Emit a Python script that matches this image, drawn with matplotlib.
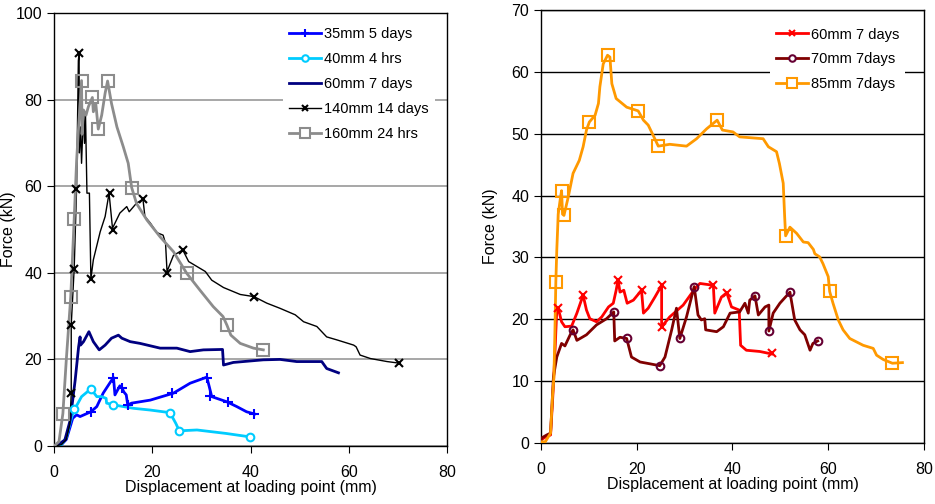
import matplotlib
matplotlib.use("Agg")
import matplotlib.pyplot as plt
from matplotlib.lines import Line2D

plt.rcParams['font.family'] = ['Liberation Sans', 'DejaVu Sans']

# ---- left chart data ----
s35_x = [0, 1.5, 2.5, 3.3, 3.8, 4.6, 5.3, 6.7, 7.5, 8.7, 10.0, 11.9, 12.1, 12.4, 13.4, 13.8, 14.2, 14.7, 15.0,
         15.8, 19.6, 24.3, 27.7, 31.1, 31.6, 32.1, 35.2, 37.2, 39.2, 40.8]
s35_y = [0, 0.3, 1.5, 4.5, 6.4, 7.2, 6.8, 7.5, 7.9, 9.1, 12.2, 15.5, 15.8, 11.8, 13.9, 13.5, 12.5, 11.8, 9.5,
         9.9, 10.6, 12.2, 14.5, 15.9, 13.7, 11.4, 10.2, 9.1, 7.9, 7.4]
s35_mx = [7.5, 12.1, 13.8, 15.1, 24.1, 31.1, 31.8, 35.4, 40.8]
s35_my = [7.9, 15.8, 13.5, 9.5, 12.2, 15.8, 11.5, 10.2, 7.4]

s40_x = [0, 1.5, 2.5, 3.3, 4.1, 4.3, 5.6, 7.5, 8.7, 9.7, 10.6, 10.7, 12.1, 16.2, 19.6, 23.6, 24.8, 25.5,
         29.1, 35, 39.9]
s40_y = [0, 0.3, 2, 5.5, 8.5, 8.7, 11.4, 13.2, 11.4, 11.4, 11.0, 9.9, 9.5, 8.7, 8.3, 7.7, 5.2, 3.5,
         3.7, 2.9, 2.1]
s40_mx = [4.1, 7.5, 12.1, 23.6, 25.5, 39.9]
s40_my = [8.5, 13.1, 9.5, 7.7, 3.5, 2.1]

s60_x = [0, 1.2, 2.2, 3.3, 4.3, 5.0, 5.3, 5.4, 6.0, 7.1, 8.0, 9.2, 10.4, 11.7, 13.1, 13.8, 15.5, 17.5,
         21.6, 25, 27.7, 30.4, 34.3, 34.5, 36.5, 42.6, 46, 49.4, 54.5, 55.5, 57.9]
s60_y = [0, 0.6, 1.4, 6, 15.2, 22.9, 25.2, 23.3, 24.1, 26.4, 24.1, 22.2, 23.3, 24.9, 25.6, 24.9, 24.1, 23.7,
         22.6, 22.6, 21.8, 22.2, 22.3, 18.7, 19.3, 19.9, 20, 19.5, 19.5, 17.9, 16.9]

s140_x = [0, 1.5, 2.5, 3.2, 3.5, 3.5, 4.1, 4.6, 4.95, 5.1, 5.15, 5.4, 5.6, 6.0, 6.2, 6.4, 6.7, 7.2, 7.5,
          8.0, 9.4, 10.4, 11.2, 11.9, 13.4, 14.8, 15.3, 16.8, 18.1, 18.5, 19.6, 20.9, 22.2, 22.7, 23.0,
          24.3, 26.2, 27.4, 30.8, 32.1, 34.5, 37.9, 40.7, 43.3, 46, 49.1, 50.8, 53.5, 55.5, 57.6, 61,
          61.5, 62.3, 64.4, 67.8, 70.5]
s140_y = [0, 0.3, 1.5, 5, 12, 28, 41, 59.9, 89, 90.8, 67.7, 73.7, 65.3, 77.6, 69.9, 76.8, 58.4, 58.4, 38.6,
          43, 49.5, 53, 58.4, 50.3, 53.8, 55.3, 54.1, 56.1, 57, 53, 51.5, 49.3, 48.7, 46.8, 40.3,
          44, 45.3, 42.6, 40.3, 38.3, 36.6, 35, 34.5, 33, 31.8, 30.3, 28.7, 27.6, 25.2, 24.5, 23.3,
          22.9, 21, 20.2, 19.5, 19.1]
s140_mx = [3.5, 3.5, 4.1, 4.5, 5.1, 7.5, 11.3, 12.0, 18.1, 23.0, 26.2, 40.8, 70.3]
s140_my = [12.2, 28, 40.9, 59.4, 90.8, 38.6, 58.4, 50, 57, 40, 45.3, 34.5, 19.2]

s160_x = [0, 1.0, 1.8, 2.5, 3.4, 4.1, 4.6, 5.0, 5.6, 5.7, 6.0, 6.5, 7.0, 7.8, 8.0, 8.5, 9.0, 9.7, 10.4,
          10.9, 11.7, 12.8, 14.1, 15.1, 15.8, 16.8, 18.9, 21.6, 24.3, 27.0, 29.7, 32.4, 34.4, 35.2, 36.0,
          37.9, 40.6, 42.6]
s160_y = [0, 1, 7.5, 20, 34.5, 52.4, 66, 73.7, 84.4, 72, 77.6, 76.4, 78.4, 80.5, 77.2, 79.1, 73.2, 76.4, 81.5,
          84.3, 79.1, 73.7, 69.1, 65.3, 59.7, 56, 52.2, 48.3, 44.9, 39.9, 36, 32.2, 29.9, 27.9, 25.6,
          23.7, 22.6, 22.2]
s160_mx = [1.8, 3.4, 4.1, 5.6, 7.8, 9.0, 10.9, 15.8, 27.0, 35.2, 42.6]
s160_my = [7.5, 34.5, 52.4, 84.4, 80.5, 73.2, 84.3, 59.7, 39.9, 27.9, 22.2]

# ---- right chart data ----
r60_x = [0, 1, 2, 2.5, 3.0, 3.1, 3.3, 3.6, 4.3, 5.0, 6.4, 7.5, 8.8, 9.5, 10.2, 11.6, 12.7, 14.1, 15.1, 15.7,
         16.1, 16.5, 17.3, 18.0, 19.3, 21.0, 21.4, 22.4, 23.8, 25.2, 25.2, 26.9, 29.7, 32.2, 33.2, 36.0,
         36.3, 37.7, 38.8, 39.8, 41.4, 41.7, 42.9, 45.7, 48.2]
r60_y = [0.5, 1, 1.3, 8, 16, 18, 21.5, 21.8, 19.6, 18.8, 18.9, 21, 23.9, 21.5, 20.1, 19.6, 20.4, 22, 22.6, 24.7,
         26.4, 24.4, 24.7, 22.6, 23.1, 24.7, 21, 21.8, 23.6, 25.5, 18.8, 20.4, 22.3, 25, 25.8, 25.5,
         21, 23.6, 24.3, 22, 21.5, 15.8, 15, 14.8, 14.4]
r60_mx = [3.6, 8.8, 16.1, 21.0, 25.2, 25.2, 36.0, 38.8, 48.2]
r60_my = [21.8, 23.9, 26.4, 24.7, 25.5, 18.8, 25.5, 24.3, 14.5]

r70_x = [0, 0.1, 1.2, 2.0, 2.6, 3.3, 4.3, 5.0, 6.1, 6.7, 7.5, 9.5, 11.6, 13.7, 15.2, 15.4, 16.5, 17.9, 18.9,
         20.7, 22.8, 24.8, 25.9, 27.3, 28.3, 29.0, 30.4, 32.0, 32.8, 33.5, 34.2, 34.4, 36.7, 38.1, 39.5,
         41.5, 42.6, 43.3, 43.6, 44.7, 45.4, 46.8, 47.6, 47.6, 48.5, 49.9, 52.0, 53.0, 54.1, 55.1, 56.2,
         56.8, 57.8]
r70_y = [0.3, 0.8, 1.3, 1.6, 10.7, 13.9, 16.1, 15.7, 17.5, 18.3, 16.6, 17.5, 19.1, 20.1, 21.2, 16.5, 17.1, 16.9, 13.9,
         13.1, 12.8, 12.5, 13.9, 18.3, 21.8, 16.9, 20.4, 25.3, 20.7, 19.9, 20.1, 18.3, 18, 18.8, 21,
         21.2, 22.6, 21, 23.1, 23.8, 20.7, 22, 22.3, 18.1, 21, 22.6, 24.4, 19.9, 18.3, 17.5, 15,
         16.1, 16.5]
r70_mx = [6.7, 15.2, 17.9, 24.8, 29.0, 32.0, 44.7, 47.6, 52.0, 57.8]
r70_my = [18.3, 21.2, 16.9, 12.5, 16.9, 25.3, 23.8, 18.1, 24.4, 16.5]

r85_x = [0, 0.9, 2.0, 2.4, 2.7, 2.9, 3.1, 3.3, 3.6, 4.0, 4.3, 4.5, 4.8, 5.7, 6.7, 8.0, 8.8, 9.5, 10.1, 11.3,
         12.0, 12.3, 13.0, 13.9, 14.4, 14.8, 15.7, 17.9, 20.3, 21.4, 22.4, 23.4, 24.5, 26.9, 30.4, 32.5,
         34.6, 36.8, 37.9, 40.1, 41.5, 46.4, 47.5, 49.2, 49.8, 50.6, 50.9, 51.1, 52.0, 53.4, 54.8, 55.8,
         56.9, 57.2, 58.2, 58.9, 60.0, 60.3, 61.0, 62.1, 63.1, 64.5, 67.3, 69.4, 70.1, 71.5, 73.4, 75.5]
r85_y = [0.2, 0.2, 1.6, 7.5, 10.7, 17.7, 26, 31.2, 37, 39.3, 40.8, 37, 36.8, 39.8, 43.6, 45.7, 47.9, 50.6, 51.9, 53,
         54.9, 57.6, 61.3, 62.7, 62.4, 58.1, 55.7, 54.3, 53.7, 52.2, 51.4, 49.8, 48.0, 48.3, 48, 49.2,
         50.8, 52.2, 50.6, 50.3, 49.5, 49.2, 47.9, 47.1, 45.2, 42, 36.6, 33.5, 34.9, 33.9, 32.5, 32.4,
         31.3, 30.6, 30.1, 29, 26.9, 24.5, 22.6, 19.9, 18.3, 16.9, 15.8, 15.3, 14.2, 13.5, 12.9, 13]
r85_mx = [3.1, 4.3, 4.8, 10.1, 13.9, 20.3, 24.5, 36.8, 51.1, 60.3, 73.4]
r85_my = [26, 40.8, 36.8, 51.9, 62.7, 53.7, 48.0, 52.2, 33.5, 24.5, 12.9]

left_labels = ['35mm 5 days', '40mm 4 hrs', '60mm 7 days', '140mm 14 days', '160mm 24 hrs']
right_labels = ['60mm 7 days', '70mm 7days', '85mm 7days']

fig = plt.figure(figsize=(9.35, 5.04), dpi=100)
ax1 = fig.add_axes([0.0578, 0.1151, 0.4203, 0.859])
ax2 = fig.add_axes([0.5786, 0.121, 0.4096, 0.859])

# (x, y, marker x, marker y, colour, lw, marker, size, edge, face)
left_series = [
    (s35_x, s35_y, s35_mx, s35_my, '#0000FF', 2.0, '+', 6.5, '#0000FF', '#0000FF'),
    (s40_x, s40_y, s40_mx, s40_my, '#00CCFF', 2.0, 'o', 5.5, '#00CCFF', 'white'),
    (s60_x, s60_y, None, None, '#000080', 2.0, None, 0, '#000080', '#000080'),
    (s140_x, s140_y, s140_mx, s140_my, 'black', 1.0, 'x', 5.5, 'black', 'black'),
    (s160_x, s160_y, s160_mx, s160_my, '#8C8C8C', 2.0, 's', 8.5, '#8C8C8C', 'none'),
]
right_series = [
    (r60_x, r60_y, r60_mx, r60_my, '#FF0000', 2.0, 'x', 5.5, '#FF0000', '#FF0000'),
    (r70_x, r70_y, r70_mx, r70_my, '#800000', 2.0, 'o', 5.5, '#660033', 'none'),
    (r85_x, r85_y, r85_mx, r85_my, '#FF9900', 2.0, 's', 8.5, '#FF9900', 'none'),
]


def draw(ax, series, labels):
    handles = []
    for (x, y, mx, my, c, lw, m, ms, mec, mfc), lab in zip(series, labels):
        ax.plot(x, y, color=c, lw=lw, zorder=3)
        if mx is not None:
            ax.plot(mx, my, ls='none', marker=m, ms=ms, mec=mec, mfc=mfc, mew=1.5, zorder=4)
        handles.append(Line2D([], [], color=c, lw=lw, marker=m, ms=ms * 0.85 if m else 0,
                              mec=mec, mfc=mfc if mfc != 'none' else 'white', mew=1.5))
    return handles


h1 = draw(ax1, left_series, left_labels)
h2 = draw(ax2, right_series, right_labels)

ax1.set_xlim(0, 80)
ax1.set_ylim(0, 100)
ax1.set_xticks([0, 20, 40, 60, 80])
ax1.set_yticks([0, 20, 40, 60, 80, 100])
ax1.yaxis.grid(True, color='#A0A0A0', lw=1.3)

ax2.set_xlim(0, 80)
ax2.set_ylim(0, 70)
ax2.set_xticks([0, 20, 40, 60, 80])
ax2.set_yticks([0, 10, 20, 30, 40, 50, 60, 70])
ax2.yaxis.grid(True, color='black', lw=1.0)

for ax in (ax1, ax2):
    ax.set_axisbelow(True)
    ax.tick_params(direction='out', length=5, labelsize=11.5, color='black')
    ax.tick_params(axis='x', pad=9)
    ax.set_xlabel('Displacement at loading point (mm)', fontsize=11.5, labelpad=0)
    ax.set_ylabel('Force (kN)', fontsize=11.5)
    for sp in ax.spines.values():
        sp.set_linewidth(1.0)
        sp.set_color('black')

ax1.yaxis.set_label_coords(-0.096, 0.5)
ax2.yaxis.set_label_coords(-0.112, 0.5)

leg1 = ax1.legend(h1, left_labels, loc='upper left', bbox_to_anchor=(0.565, 0.997), fontsize=10.5,
                  frameon=True, facecolor='white', edgecolor='none', framealpha=1, fancybox=False,
                  handlelength=2.2, handletextpad=0.2, labelspacing=0.75, borderpad=0.4)
leg2 = ax2.legend(h2, right_labels, loc='upper left', bbox_to_anchor=(0.58, 0.99), fontsize=10.5,
                  frameon=True, facecolor='white', edgecolor='none', framealpha=1, fancybox=False,
                  handlelength=2.2, handletextpad=0.2, labelspacing=0.75, borderpad=0.4)

fig.savefig('out.png', dpi=100)
